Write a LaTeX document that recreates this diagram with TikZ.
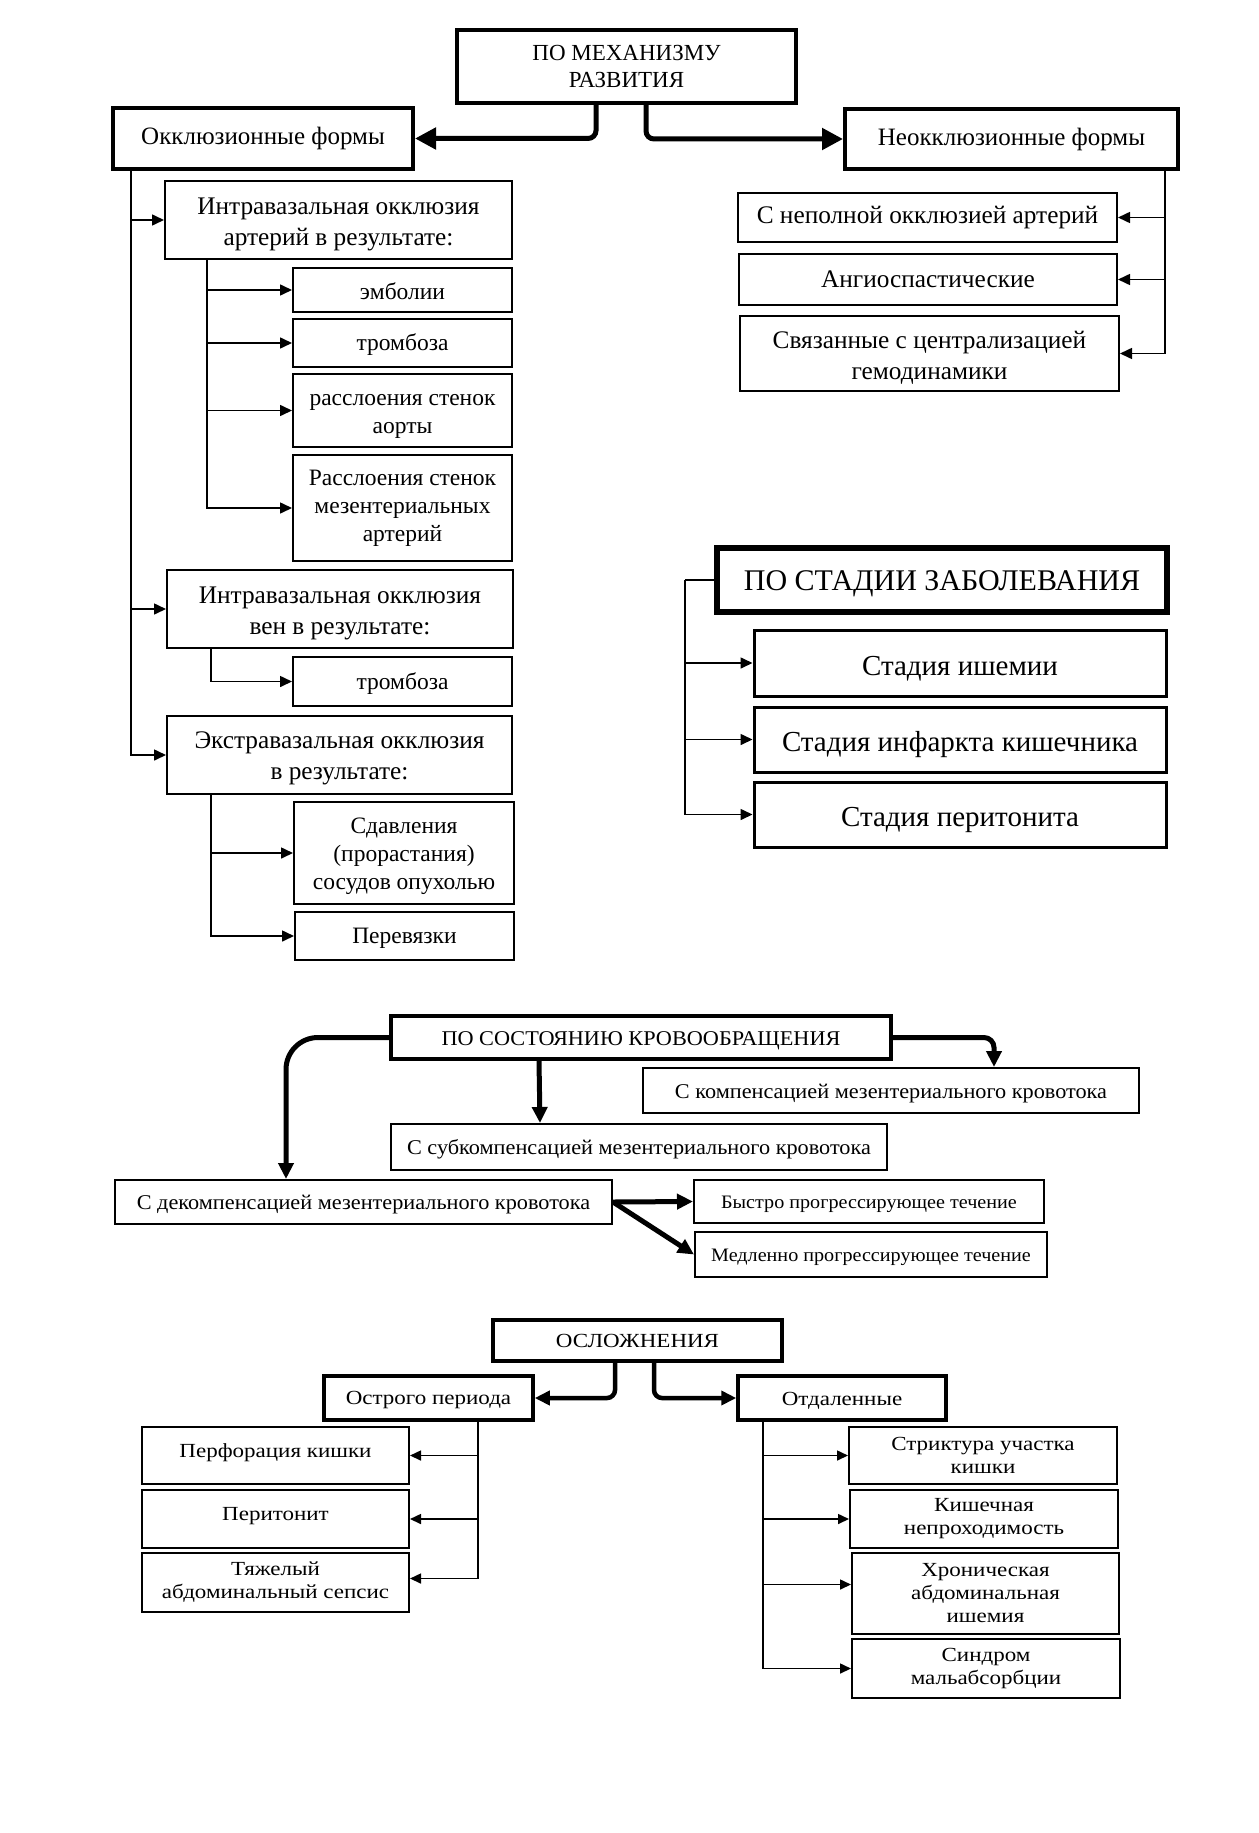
\documentclass[tikz,border=0pt]{standalone}
\usepackage{fontspec}
\setmainfont{Liberation Serif}
\newfontfamily\wideA[FakeStretch=1.06]{Liberation Serif}
\newfontfamily\wideB[FakeStretch=1.15]{Liberation Serif}
\usetikzlibrary{arrows.meta}
\newcommand\fz[2]{\fontsize{#1}{#2}\selectfont}
\newcommand\up[1]{\rule{0pt}{#1pt}}
\newcommand\bx[7]{\node[#6, minimum width={#4-#2}, minimum height={#5-#3}] (#1) at ({(#2+#4)/2},{(#3+#5)/2}) {#7};}
\tikzset{
  box/.style={draw, line width=2pt, inner sep=0pt, align=center},
  tbox/.style={box, line width=4pt},
  sbox/.style={box, line width=6pt},
  fA/.style={font=\fz{25.3}{31}},
  fB/.style={font=\fz{23.5}{28}},
  fC/.style={font=\wideA\fz{21}{25}, text height=20pt, text depth=4.5pt},
  fD/.style={font=\wideA\fz{19}{23}, text height=17pt, text depth=4pt},
  fE/.style={font=\wideB\fz{20}{23}},
  tarr/.style={line width=1.6pt, -{Triangle[length=12pt,width=11pt]}},
  tarrs/.style={line width=1.6pt, -{Triangle[length=11pt,width=10pt]}},
  bigarr/.style={line width=5pt, -{Triangle[length=21pt,width=21pt]}},
  karr/.style={line width=5pt, -{Triangle[length=16pt,width=15pt]}},
  oarr/.style={line width=4.5pt, -{Triangle[length=15pt,width=14pt]}},
}
\begin{document}
\begin{tikzpicture}[x=1pt,y=-1pt]
\fill[white] (0,0) rectangle (1258,1833);
\path[use as bounding box] (0,0) rectangle (1258,1833);

% ---------- section 1 ----------
\bx{mech}{457}{30}{796}{103}{tbox,font=\fz{23}{27}}{ПО МЕХАНИЗМУ\\РАЗВИТИЯ}
\bx{occ}{113}{108}{413}{169}{tbox,font=\fz{25}{30}}{Окклюзионные формы}
\bx{nocc}{845}{109}{1178}{169}{tbox,font=\fz{25}{30}}{Неокклюзионные формы}
\bx{ia}{165}{181}{512}{259}{box,fA}{\up{25}Интравазальная окклюзия\\артерий в результате:}
\bx{emb}{293}{268}{512}{312}{box,fB}{\up{20}эмболии}
\bx{thra}{293}{319}{512}{367}{box,fB}{\up{20}тромбоза}
\bx{aort}{293}{374}{512}{447}{box,fB}{\up{23}расслоения стенок\\аорты}
\bx{mez}{293}{455}{512}{561}{box,fB}{Расслоения стенок\\мезентериальных\\артерий}
\bx{iv}{167}{570}{513}{648}{box,fA}{\up{25}Интравазальная окклюзия\\вен в результате:}
\bx{thrv}{293}{657}{512}{706}{box,fB}{\up{20}тромбоза}
\bx{ext}{167}{716}{512}{794}{box,fA}{\up{23}Экстравазальная окклюзия\\в результате:}
\bx{sdav}{294}{802}{514}{904}{box,fB}{\up{22}Сдавления\\(прорастания)\\сосудов опухолью}
\bx{perev}{295}{912}{514}{960}{box,fB}{\up{20}Перевязки}
\bx{nepol}{738}{193}{1117}{242}{box,fA}{С неполной окклюзией артерий}
\bx{angio}{739}{254}{1117}{305}{box,fA}{Ангиоспастические}
\bx{centr}{740}{316}{1119}{391}{box,fA}{\up{25}Связанные с централизацией\\гемодинамики}

\draw[bigarr, rounded corners=8pt] ([xshift=141pt]mech.south west) |- (occ.east);
\draw[bigarr, rounded corners=8pt] ([xshift=191pt]mech.south west) |- (nocc.west);

\draw[tarr] ([xshift=20pt]occ.south west) |- (ia.west);
\draw[tarr] ([xshift=20pt]occ.south west) |- (iv.west);
\draw[tarr] ([xshift=20pt]occ.south west) |- (ext.west);
\draw[tarr] ([xshift=43pt]ia.south west) |- (emb.west);
\draw[tarr] ([xshift=43pt]ia.south west) |- (thra.west);
\draw[tarr] ([xshift=43pt]ia.south west) |- (aort.west);
\draw[tarr] ([xshift=43pt]ia.south west) |- (mez.west);
\draw[tarr] ([xshift=45pt]iv.south west) |- (thrv.west);
\draw[tarr] ([xshift=45pt]ext.south west) |- (sdav.west);
\draw[tarr] ([xshift=45pt]ext.south west) |- (perev.west);
\draw[tarr] ([xshift=-15pt]nocc.south east) |- (nepol.east);
\draw[tarr] ([xshift=-15pt]nocc.south east) |- (angio.east);
\draw[tarr] ([xshift=-15pt]nocc.south east) |- (centr.east);

% ---------- section 2 ----------
\bx{stage}{717}{548}{1167}{612}{sbox,font=\fz{30}{34},text height=26pt,text depth=6pt}{ПО СТАДИИ ЗАБОЛЕВАНИЯ}
\bx{s1}{754}{630}{1166}{696}{box,line width=3pt,font=\fz{29}{34},text height=30pt,text depth=6pt}{Стадия ишемии}
\bx{s2}{754}{707}{1166}{772}{box,line width=3pt,font=\fz{29}{34},text height=30pt,text depth=6pt}{Стадия инфаркта кишечника}
\bx{s3}{754}{782}{1166}{847}{box,line width=3pt,font=\fz{29}{34},text height=30pt,text depth=6pt}{Стадия перитонита}
\coordinate (stk) at ([xshift=-29pt]stage.west);
\draw[line width=1.6pt] (stage.west) -- (stk);
\draw[tarr] (stk) |- (s1.west);
\draw[tarr] (stk) |- (s2.west);
\draw[tarr] (stk) |- (s3.west);

% ---------- section 3 ----------
\bx{krov}{391}{1016}{891}{1059}{tbox,fC}{ПО СОСТОЯНИЮ КРОВООБРАЩЕНИЯ}
\bx{comp}{643}{1068}{1139}{1113}{box,fC}{С компенсацией мезентериального кровотока}
\bx{subc}{391}{1124}{887}{1170}{box,fC}{С субкомпенсацией мезентериального кровотока}
\bx{deco}{115}{1180}{612}{1224}{box,fC}{С декомпенсацией мезентериального кровотока}
\bx{fast}{694}{1180}{1044}{1223}{box,fD}{Быстро прогрессирующее течение}
\bx{slow}{695}{1232}{1047}{1277}{box,fD}{Медленно прогрессирующее течение}
\draw[karr, rounded corners=32pt] (krov.west) -| ([xshift=172pt]deco.north west);
\draw[karr] ([xshift=150pt]krov.south west) -- ([xshift=150pt]subc.north west);
\draw[karr, rounded corners=10pt] (krov.east) -| ([xshift=352pt]comp.north west);
\draw[karr] (deco.east) -- (fast.west);
\draw[karr] (deco.east) -- (slow.west);

% ---------- section 4 ----------
\bx{osl}{493}{1320}{782}{1361}{tbox,font=\wideB\fz{20}{23}}{ОСЛОЖНЕНИЯ}
\bx{ostr}{324}{1376}{533}{1420}{tbox,line width=3.5pt,fE}{\up{18}Острого периода}
\bx{otd}{738}{1376}{946}{1420}{tbox,line width=3.5pt,fE}{\up{18}Отдаленные}
\bx{perf}{142}{1427}{409}{1484}{box,fE}{\raisebox{10pt}{Перфорация кишки}}
\bx{perit}{142}{1490}{409}{1548}{box,fE}{\raisebox{10pt}{Перитонит}}
\bx{seps}{142}{1553}{409}{1612}{box,fE}{Тяжелый\\абдоминальный сепсис}
\bx{strik}{849}{1427}{1117}{1484}{box,fE}{Стриктура участка\\кишки}
\bx{kish}{850}{1490}{1118}{1548}{box,fE}{Кишечная\\непроходимость}
\bx{chron}{852}{1553}{1119}{1634}{box,fE}{Хроническая\\абдоминальная\\ишемия}
\bx{synd}{852}{1639}{1120}{1698}{box,fE}{Синдром\\мальабсорбции}
\draw[oarr, rounded corners=8pt] ([xshift=124pt]osl.south west) |- (ostr.east);
\draw[oarr, rounded corners=8pt] ([xshift=163pt]osl.south west) |- (otd.west);
\draw[tarrs] ([xshift=156pt]ostr.south west) |- (perf.east);
\draw[tarrs] ([xshift=156pt]ostr.south west) |- (perit.east);
\draw[tarrs] ([xshift=156pt]ostr.south west) |- ([yshift=4pt]seps.east);
\draw[tarrs] ([xshift=27pt]otd.south west) |- (strik.west);
\draw[tarrs] ([xshift=27pt]otd.south west) |- (kish.west);
\draw[tarrs] ([xshift=27pt]otd.south west) |- ([yshift=9pt]chron.west);
\draw[tarrs] ([xshift=27pt]otd.south west) |- (synd.west);
\end{tikzpicture}
\end{document}
